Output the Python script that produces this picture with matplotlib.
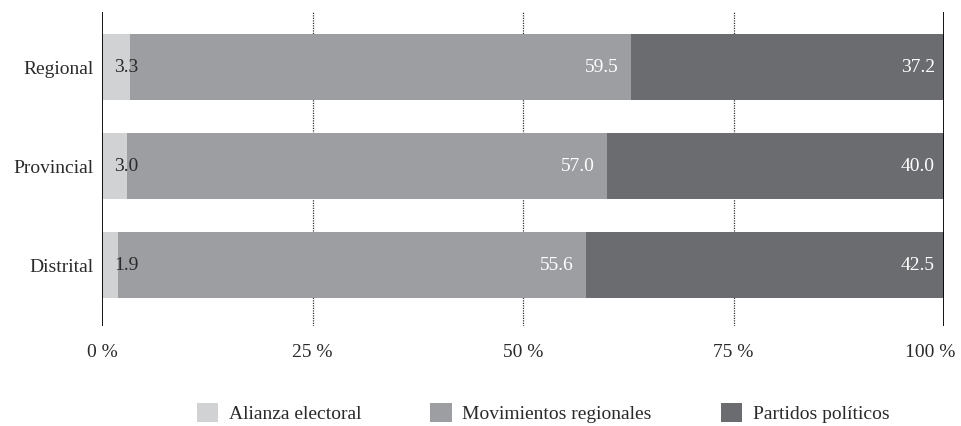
import matplotlib
matplotlib.use("Agg")
import matplotlib.pyplot as plt
import matplotlib.transforms as mtransforms
from matplotlib.patches import Patch

plt.rcParams['font.family'] = ['Liberation Serif', 'DejaVu Serif']

categories = ["Regional", "Provincial", "Distrital"]
alianza = [3.3, 3.0, 1.9]
movimientos = [59.5, 57.0, 55.6]
partidos = [37.2, 40.0, 42.5]
series_names = ["Alianza electoral", "Movimientos regionales", "Partidos políticos"]
colors = ["#d1d2d4", "#9d9ea2", "#6b6c70"]
xticks = [0, 25, 50, 75, 100]
xticklabels = ["0 %", "25 %", "50 %", "75 %", "100 %"]

fig = plt.figure(figsize=(9.61, 4.26), dpi=100)
ax = fig.add_axes([102/961, 1-326/426, (944-102)/961, (326-12)/426])

y = list(range(len(categories)))
h = 0.667
ax.barh(y, alianza, height=h, color=colors[0], zorder=2)
ax.barh(y, movimientos, left=alianza, height=h, color=colors[1], zorder=2)
left2 = [a + m for a, m in zip(alianza, movimientos)]
ax.barh(y, partidos, left=left2, height=h, color=colors[2], zorder=2)

fs = 14
for i in y:
    ax.text(1.4, i, f"{alianza[i]:.1f}", va="center", ha="left", color="#2a2a2a", fontsize=fs, zorder=3)
    ax.text(left2[i] - 1.5, i, f"{movimientos[i]:.1f}", va="center", ha="right", color="white", fontsize=fs, zorder=3)
    ax.text(100 - 1.1, i, f"{partidos[i]:.1f}", va="center", ha="right", color="white", fontsize=fs, zorder=3)

ax.set_xlim(0, 100)
ax.set_ylim(len(categories) - 1 + 0.616, -0.556)
for x in [25, 50, 75]:
    ax.axvline(x, color="#333333", linestyle=(0, (1, 1)), linewidth=0.9, zorder=1)
ax.axvline(0, color="black", linewidth=1.3, zorder=4)
ax.axvline(100, color="black", linewidth=1.3, zorder=4)

for s in ax.spines.values():
    s.set_visible(False)
ax.set_xticks(xticks)
ax.set_xticklabels(xticklabels, fontsize=fs)
ax.set_yticks(y)
ax.set_yticklabels(categories, fontsize=fs, color="#2a2a2a")
ax.tick_params(axis="both", length=0, colors="#2a2a2a")
ax.tick_params(axis="x", pad=13)
ax.tick_params(axis="y", pad=6)

# shift the last tick label left so it stays inside the figure
lbls = ax.get_xticklabels()
off = mtransforms.ScaledTranslation(-14/100, 0, fig.dpi_scale_trans)
lbls[-1].set_transform(lbls[-1].get_transform() + off)

handles = [Patch(facecolor=c, edgecolor="none") for c in colors]
fig.legend(handles, series_names, loc="center", bbox_to_anchor=(543/961, 1-413/426), ncol=3,
           frameon=False, fontsize=fs, handlelength=1.1, handleheight=1.1, columnspacing=3.55,
           handletextpad=0.55, labelcolor="#2a2a2a")

fig.savefig("out.png", dpi=100)
